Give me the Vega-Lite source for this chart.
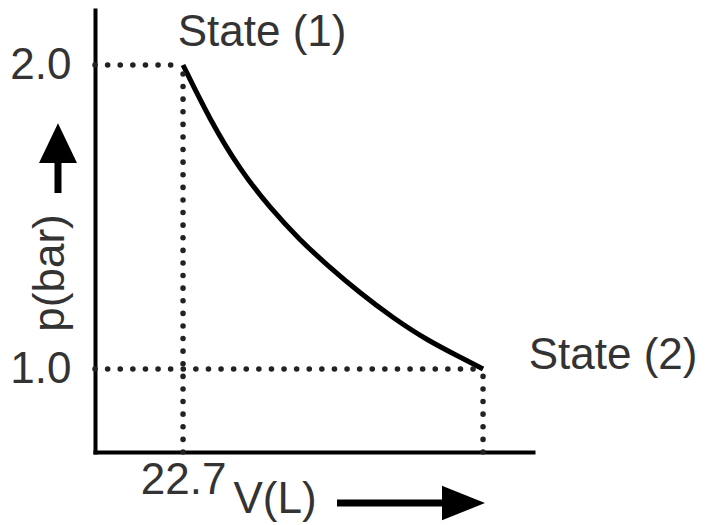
{
  "$schema": "https://vega.github.io/schema/vega-lite/v6.json",
  "width": 438,
  "height": 442,
  "autosize": {"type": "none"},
  "padding": {"left": 95, "top": 10, "right": 173, "bottom": 73},
  "background": "white",
  "config": {"view": {"stroke": null}, "font": "Liberation Sans"},
  "datasets": {
    "curve": [
      {"V": 22.7, "p": 2.0},
      {"V": 24.74, "p": 1.819},
      {"V": 27.01, "p": 1.655},
      {"V": 29.28, "p": 1.53},
      {"V": 31.55, "p": 1.424},
      {"V": 33.6, "p": 1.342},
      {"V": 36.09, "p": 1.25},
      {"V": 38.59, "p": 1.168},
      {"V": 41.16, "p": 1.095},
      {"V": 43.66, "p": 1.039},
      {"V": 45.4, "p": 1.0}
    ],
    "guides": [
      {"V1": 16.04, "V2": 22.7, "p1": 2.0, "p2": 2.0},
      {"V1": 16.04, "V2": 45.4, "p1": 1.0, "p2": 1.0},
      {"V1": 22.7, "V2": 22.7, "p1": 0.727, "p2": 2.0},
      {"V1": 45.4, "V2": 45.4, "p1": 0.727, "p2": 1.0}
    ],
    "labels": [
      {"V": 28.68, "p": 2.062, "text": "State (1)"},
      {"V": 55.24, "p": 1.0, "text": "State (2)"},
      {"V": 29.66, "p": 0.526, "text": "V(L)"}
    ],
    "ylabel": [{"V": 13.69, "p": 1.316, "text": "p(bar)"}],
    "shafts": [
      {"V1": 34.35, "V2": 42.6, "p1": 0.559, "p2": 0.559},
      {"V1": 13.24, "V2": 13.24, "p1": 1.579, "p2": 1.69}
    ],
    "headRight": [{"V": 43.92, "p": 0.559}],
    "headUp": [{"V": 13.24, "p": 1.74}]
  },
  "layer": [
    {
      "data": {"name": "curve"},
      "mark": {"type": "line", "color": "black", "strokeWidth": 5, "interpolate": "basis"},
      "encoding": {
        "x": {"field": "V", "type": "quantitative", "scale": {"domain": [16.04, 49.18], "nice": false, "zero": false},
          "axis": {"values": [22.7], "format": ".1f", "title": null, "grid": false, "ticks": false, "domain": true, "domainColor": "black", "domainWidth": 4, "domainCap": "square", "labelFontSize": 44, "labelColor": "#333", "labelPadding": 6, "labelFont": "Liberation Sans"}},
        "y": {"field": "p", "type": "quantitative", "scale": {"domain": [0.727, 2.181], "nice": false, "zero": false},
          "axis": {"values": [1, 2], "format": ".1f", "title": null, "grid": false, "ticks": false, "domain": true, "domainColor": "black", "domainWidth": 4, "domainCap": "square", "labelFontSize": 44, "labelColor": "#333", "labelPadding": 24, "labelFont": "Liberation Sans"}}
      }
    },
    {
      "data": {"name": "guides"},
      "mark": {"type": "rule", "strokeDash": [0.1, 12.5], "strokeCap": "round", "strokeWidth": 5.5, "color": "#222"},
      "encoding": {
        "x": {"field": "V1", "type": "quantitative"},
        "x2": {"field": "V2"},
        "y": {"field": "p1", "type": "quantitative"},
        "y2": {"field": "p2"}
      }
    },
    {
      "data": {"name": "labels"},
      "mark": {"type": "text", "fontSize": 44, "color": "#333", "align": "center", "baseline": "alphabetic", "font": "Liberation Sans"},
      "encoding": {
        "x": {"field": "V", "type": "quantitative"},
        "y": {"field": "p", "type": "quantitative"},
        "text": {"field": "text"}
      }
    },
    {
      "data": {"name": "ylabel"},
      "mark": {"type": "text", "fontSize": 44, "color": "#333", "align": "center", "baseline": "alphabetic", "angle": 270, "font": "Liberation Sans"},
      "encoding": {
        "x": {"field": "V", "type": "quantitative"},
        "y": {"field": "p", "type": "quantitative"},
        "text": {"field": "text"}
      }
    },
    {
      "data": {"name": "shafts"},
      "mark": {"type": "rule", "strokeWidth": 7, "color": "black"},
      "encoding": {
        "x": {"field": "V1", "type": "quantitative"},
        "x2": {"field": "V2"},
        "y": {"field": "p1", "type": "quantitative"},
        "y2": {"field": "p2"}
      }
    },
    {
      "data": {"name": "headRight"},
      "mark": {"type": "point", "shape": "M-1,-0.8L1,0L-1,0.8Z", "size": 1849, "filled": true, "color": "black", "opacity": 1},
      "encoding": {
        "x": {"field": "V", "type": "quantitative"},
        "y": {"field": "p", "type": "quantitative"}
      }
    },
    {
      "data": {"name": "headUp"},
      "mark": {"type": "point", "shape": "M-1,1L1,1L0,-1.1Z", "size": 1444, "filled": true, "color": "black", "opacity": 1},
      "encoding": {
        "x": {"field": "V", "type": "quantitative"},
        "y": {"field": "p", "type": "quantitative"}
      }
    }
  ]
}
